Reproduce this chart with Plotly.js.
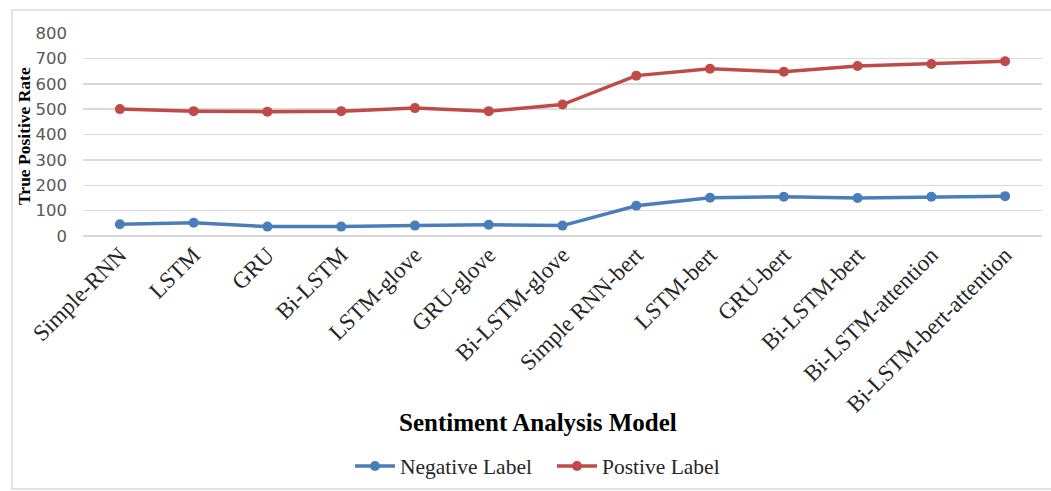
<!DOCTYPE html>
<html>
<head>
<meta charset="utf-8">
<script src="https://cdn.plot.ly/plotly-3.0.1.min.js"></script>
<style>html,body{margin:0;padding:0;background:#fff;}#chart{width:1051px;height:491px;}</style>
</head>
<body>
<div id="chart"></div>
<script>
const models = ["Simple-RNN","LSTM","GRU","Bi-LSTM","LSTM-glove","GRU-glove","Bi-LSTM-glove","Simple RNN-bert","LSTM-bert","GRU-bert","Bi-LSTM-bert","Bi-LSTM-attention","Bi-LSTM-bert-attention"];
const negativeLabel = [46,52,37,37,41,44,41,119,151,155,150,155,157];
const positiveLabel = [500,492,490,492,504,492,518,632,659,647,670,678,689];
const yTicks = [0,100,200,300,400,500,600,700,800];

const W = 1051, H = 491;
const L = 83, R = 9, T = 33, B = 255;
const pw = W - L - R, ph = H - T - B;
const px = x => (x - L) / pw;
const py = y => (H - B - y) / ph;

const traces = [
  {x: models, y: negativeLabel, name: "Negative Label", type: "scatter", mode: "lines+markers",
   line: {color: "#4a7ebb", width: 3.5}, marker: {color: "#4a7ebb", size: 10}},
  {x: models, y: positiveLabel, name: "Postive Label", type: "scatter", mode: "lines+markers",
   line: {color: "#be4b48", width: 3.5}, marker: {color: "#be4b48", size: 10}}
];

const layout = {
  width: W, height: H,
  margin: {l: L, r: R, t: T, b: B, autoexpand: false},
  paper_bgcolor: "#ffffff", plot_bgcolor: "#ffffff",
  showlegend: true,
  legend: {orientation: "h", x: px(350), xanchor: "left", y: py(466), yanchor: "middle",
           font: {family: "Liberation Serif", size: 21.5, color: "#262626"}, itemwidth: 40,
           entrywidth: 147, entrywidthmode: "pixels"},
  xaxis: {type: "category", range: [-0.5, 12.5], showgrid: false, zeroline: false, showline: false,
          ticks: "", tickangle: -45, automargin: false,
          tickfont: {family: "Liberation Serif", size: 23, color: "#262626"}},
  yaxis: {range: [0, 800], tickvals: yTicks, showgrid: true, gridcolor: "#d9d9d9", gridwidth: 1.5,
          zeroline: true, zerolinecolor: "#d9d9d9", zerolinewidth: 1.5, showline: false, ticks: "",
          ticklabelstandoff: 15, automargin: false,
          tickfont: {family: "DejaVu Sans", size: 16.5, color: "#595959"}},
  annotations: [
    {text: "Sentiment Analysis Model", xref: "paper", yref: "paper", x: px(538), y: py(422),
     xanchor: "center", yanchor: "middle", showarrow: false,
     font: {family: "Liberation Serif", size: 25, color: "#000000", weight: "bold"}},
    {text: "True Positive Rate", xref: "paper", yref: "paper", x: px(24), y: py(136),
     xanchor: "center", yanchor: "middle", showarrow: false, textangle: -90,
     font: {family: "Liberation Serif", size: 17.5, color: "#000000", weight: "bold"}}
  ],
  shapes: [
    {type: "rect", xref: "paper", yref: "paper", x0: px(12), x1: px(1060), y0: py(10), y1: py(489),
     line: {color: "#d9d9d9", width: 1.5}, fillcolor: "rgba(0,0,0,0)", layer: "below"}
  ]
};

Plotly.newPlot("chart", traces, layout, {displayModeBar: false, staticPlot: true});
</script>
</body>
</html>
